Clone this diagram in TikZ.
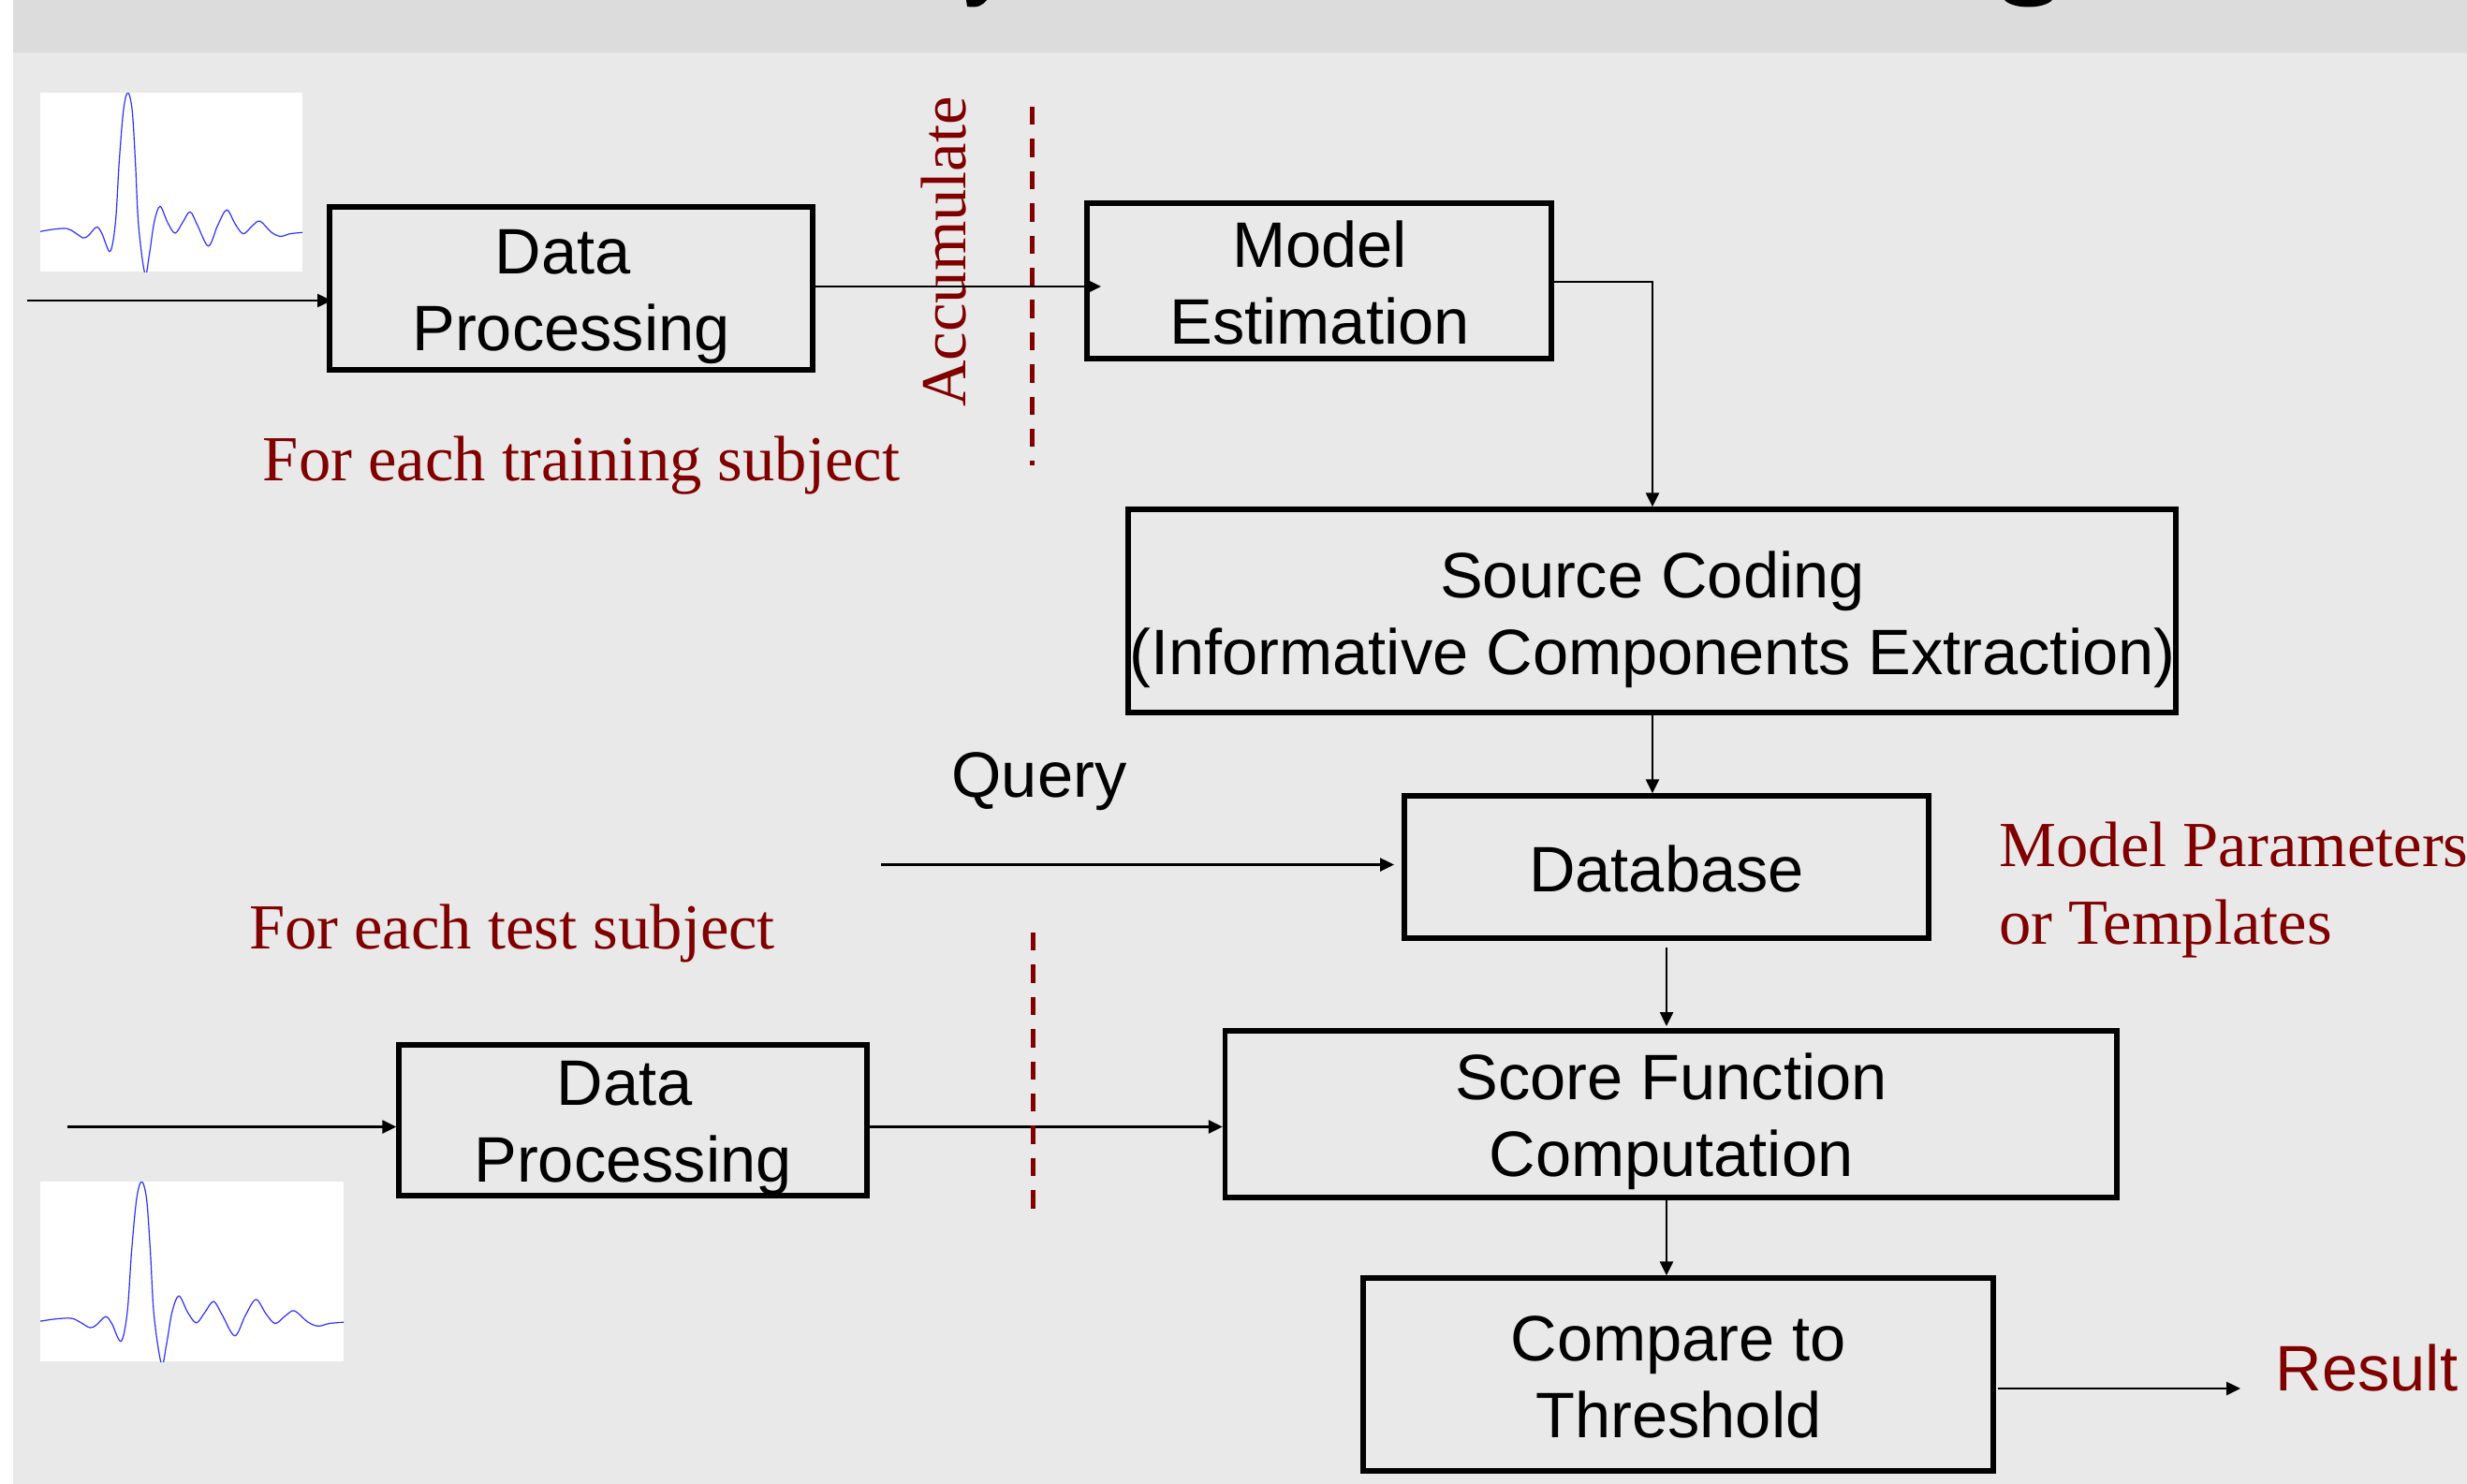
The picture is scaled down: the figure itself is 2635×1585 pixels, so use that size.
\documentclass[tikz,border=0pt]{standalone}
\usepackage{fontspec}
\setmainfont{Liberation Serif}
\newfontfamily\arialf{Liberation Sans}
\usetikzlibrary{arrows.meta}
\definecolor{bgc}{HTML}{E9E9E9}
\definecolor{bandc}{HTML}{DCDCDC}
\definecolor{dred}{HTML}{800000}
\definecolor{wavec}{HTML}{3030FF}
\newcommand{\wavecurve}{\draw[wavec,line width=0.6pt] plot[smooth,tension=0.55] coordinates {(75,718)(100,711)(125,709)(140,722)(155,738)(165,730)(180,704)(190,725)(205,780)(215,690)(222,500)(230,340)(238,287)(246,340)(252,500)(258,700)(270,850)(278,790)(287,690)(298,640)(312,690)(326,723)(340,690)(354,657)(368,700)(388,763)(405,700)(422,651)(438,695)(453,725)(470,700)(484,686)(505,720)(522,733)(540,725)(563,721)};}
\tikzset{
 boxs/.style={draw=black,line width=2.7pt,inner sep=0pt},
 boxt/.style={font=\arialf\fontsize{34.3}{41}\selectfont,align=center,inner sep=0pt,text=black},
 serift/.style={font=\fontsize{34.3}{41.5}\selectfont,align=left,inner sep=0pt,text=dred},
 arr/.style={draw=black,line width=1.25pt,-{Triangle[length=7.5pt,width=7pt]}},
 redd/.style={draw=dred,line width=2.5pt,dash pattern=on 9.7pt off 7.5pt},
}
\newcommand{\bx}[5]{\node[boxs,minimum width={(#4-#2)*0.5pt},minimum height={(#5-#3)*0.5pt}] (#1) at ({(#2+#4)/2},{(#3+#5)/2}) {};}
\begin{document}
\begin{tikzpicture}[x=0.5pt,y=-0.5pt]
\useasboundingbox (0,0) rectangle (2635,1585);
\fill[white] (0,0) rectangle (2635,1585);
\fill[bgc] (14,0) rectangle (2635,1585);
\fill[bandc] (14,0) rectangle (2635,56);
\fill[black] (1032,0) -- (1033,7) .. controls (1045,9) and (1050,5) .. (1054,0) -- cycle;
\fill[black] (2141,0) .. controls (2150,10) and (2183,10) .. (2192,0) -- cycle;
% waveforms
\fill[white] (43,99) rectangle (323,290);
\begin{scope}
\clip (43,99) rectangle (323,290);
\begin{scope}[shift={(43-75*0.5738,99-287*0.344)},xscale=0.5738,yscale=0.344]
\wavecurve
\end{scope}
\end{scope}
\fill[white] (43,1262) rectangle (367,1454);
\begin{scope}
\clip (43,1262) rectangle (367,1454);
\begin{scope}[shift={(43-75*0.664,1262-287*0.346)},xscale=0.664,yscale=0.346]
\wavecurve
\end{scope}
\end{scope}
% boxes
\bx{dpa}{352}{221}{868}{395}
\bx{model}{1161}{217}{1657}{383}
\bx{source}{1205}{544}{2324}{761}
\bx{db}{1500}{850}{2060}{1002}
\bx{score}{1308.5}{1101}{2261}{1279}
\bx{cmp}{1456}{1365}{2129}{1571}
\bx{dpb}{426}{1116}{926}{1277}
% box text
\node[boxt] (tdpa) at (610,317.5) {\hspace*{-9pt}Data\\Processing};
\node[boxt] (tmodel) at (1409.5,301.5) {Model\\Estimation};
\node[boxt] (tsource) at (1765,662) {Source Coding\\(Informative Components Extraction)};
\node[boxt] (tdb) at (1780,928) {Database};
\node[boxt] (tscore) at (1785,1197.5) {Score Function\\Computation};
\node[boxt] (tcmp) at (1793,1471) {Compare to\\Threshold};
\node[boxt] (tdpb) at (676,1205.5) {\hspace*{-9pt}Data\\Processing};
% labels
\node[boxt] (query) at (1110,835) {Query};
\node[boxt,text=dred] (result) at (2528,1461) {Result};
\node[serift,rotate=90] (accum) at (1008,269) {Accumulate};
\node[serift] (ltrain) at (621,497) {For each training subject};
\node[serift] (ltest) at (547,997) {For each test subject};
\node[serift] (lmodel) at (2386,950) {Model Parameters\\or Templates};
% free ends
\coordinate (ina) at (29,321);
\coordinate (inb) at (72,1203.5);
\coordinate (qs) at (941,923.5);
\coordinate (rs) at (2393,1483);
\coordinate (dba) at (1780,1012);
\coordinate (tipm) at (1176,306);
\coordinate (cmpo) at (2134,1483);
\coordinate (scoretop) at (1780,1096);
\coordinate (dbl) at (1489,923.5);
\coordinate (ma) at (1765,301);
\coordinate (tipa) at (354,321);
% connectors
\draw[arr] (ina) -- (tipa);
\draw[arr] (tipm -| dpa.east) -- (tipm);
\draw[arr] (ma -| model.east) -- (ma) -- (ma |- source.north);
\draw[arr] (ma |- source.south) -- (ma |- db.north);
\draw[arr] (qs) -- (dbl);
\draw[arr] (dba) -- (scoretop);
\draw[arr] (dba |- score.south) -- (dba |- cmp.north);
\draw[arr] (inb) -- (inb -| dpb.west);
\draw[arr] (inb -| dpb.east) -- (inb -| score.west);
\draw[arr] (cmpo) -- (rs);
% dashed
\coordinate (da) at (1102.7,114); \coordinate (db2) at (1102.7,497);
\coordinate (dc) at (1103,996); \coordinate (dd) at (1103,1292);
\draw[redd] (da) -- (db2);
\draw[redd] (dc) -- (dd);
\end{tikzpicture}
\end{document}
